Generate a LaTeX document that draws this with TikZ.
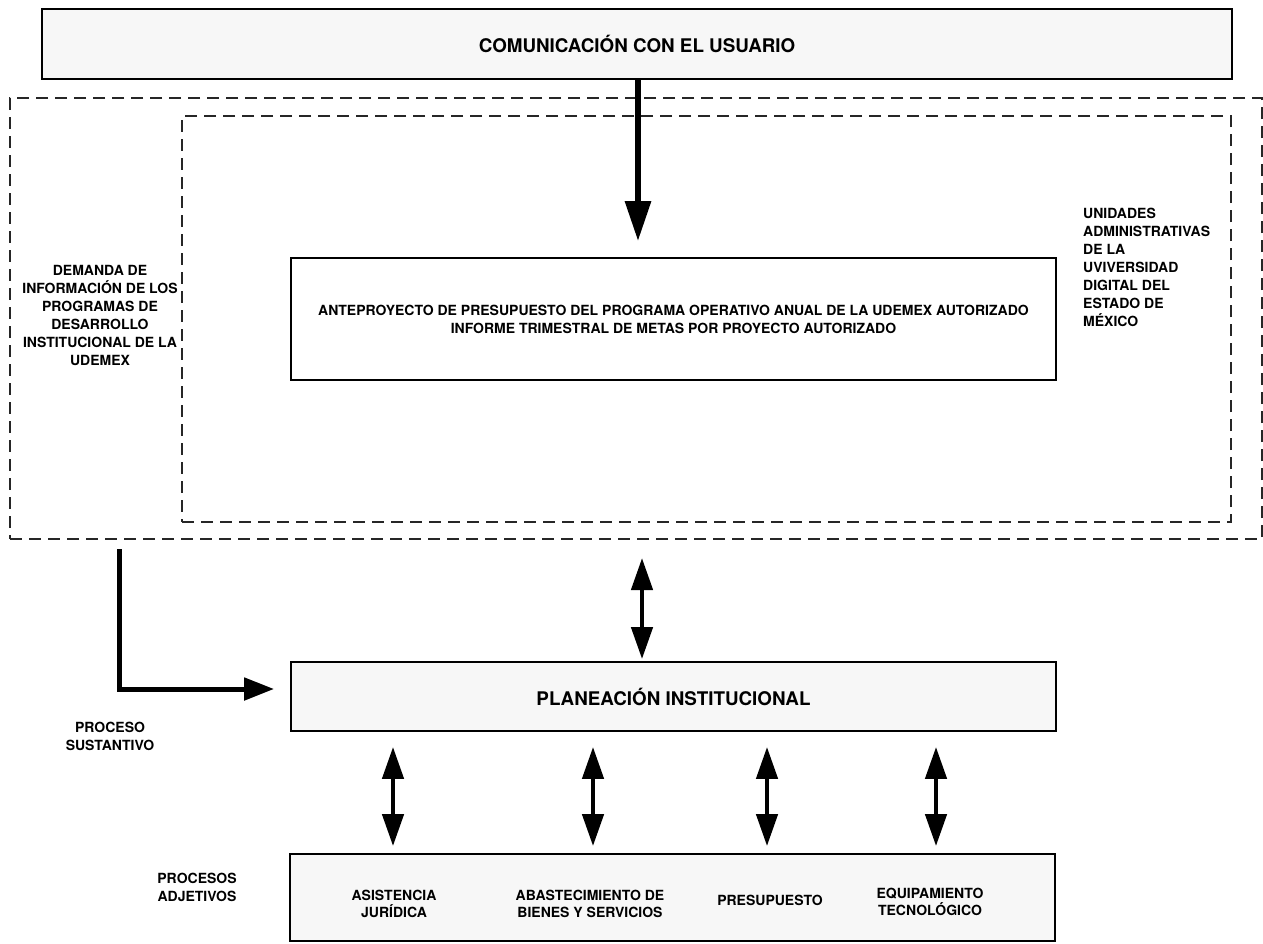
\documentclass[tikz,border=0pt]{standalone}
\usepackage{fontspec}
\setmainfont{TeX Gyre Heros}
\usetikzlibrary{arrows.meta}
\begin{document}
\begin{tikzpicture}[x=1pt,y=-1pt,
  solidbox/.style={draw=black,line width=1.8pt,fill=black!3,inner sep=0pt,anchor=center},
  dashbox/.style={draw=black!85,line width=1.8pt,dash pattern=on 12pt off 7pt,inner sep=0pt,anchor=center},
  bigtxt/.style={font=\fontsize{18.8}{22}\selectfont\bfseries},
  smalltxt/.style={font=\fontsize{14}{18}\selectfont\bfseries,inner sep=0pt,align=center},
  boxlabel/.style={smalltxt,font=\fontsize{14}{17}\selectfont\bfseries},
  bigarrow/.style={line width=6pt,-{Triangle[length=40pt,width=25pt]}},
  dblarrow/.style={line width=4.5pt,{Triangle[length=32pt,width=21pt]}-{Triangle[length=32pt,width=21pt]}},
  elbarrow/.style={line width=5pt,-{Triangle[length=30pt,width=22pt]}}
]
\fill[white] (0,0) rectangle (1263,943);
\useasboundingbox (0,0) rectangle (1263,943);

% dashed regions
\node[dashbox,minimum width=1252pt,minimum height=441pt] (outer) at (636,318.5) {};
\node[dashbox,minimum width=1049pt,minimum height=406pt] (inner) at (706.5,319) {};

% solid boxes
\node[solidbox,minimum width=1190pt,minimum height=70pt,bigtxt] (top) at (637,44) {COMUNICACIÓN CON EL USUARIO};
\node[solidbox,minimum width=765pt,minimum height=122pt,fill=white,smalltxt] (antep) at (673.5,319)
  {ANTEPROYECTO DE PRESUPUESTO DEL PROGRAMA OPERATIVO ANUAL DE LA UDEMEX AUTORIZADO\\
   INFORME TRIMESTRAL DE METAS POR PROYECTO AUTORIZADO};
\node[solidbox,minimum width=765pt,minimum height=69pt,bigtxt] (plan) at (673.5,696.5) {PLANEACIÓN INSTITUCIONAL};
\node[solidbox,minimum width=765pt,minimum height=87pt] (bottom) at (672.5,897.5) {};

% bottom labels
\node[boxlabel] (asis) at (394,904) {ASISTENCIA\\JURÍDICA};
\node[boxlabel] (abas) at (590,904) {ABASTECIMIENTO DE\\BIENES Y SERVICIOS};
\node[boxlabel] (pres) at (770,900) {PRESUPUESTO};
\node[boxlabel] (equi) at (930,902) {EQUIPAMIENTO\\TECNOLÓGICO};

% side labels
\node[smalltxt] (dem) at (100,315) {DEMANDA DE\\INFORMACIÓN DE LOS\\PROGRAMAS DE\\DESARROLLO\\INSTITUCIONAL DE LA\\UDEMEX};
\node[smalltxt,align=left,anchor=west] (uni) at (1083,267) {UNIDADES\\ADMINISTRATIVAS\\DE LA\\UVIVERSIDAD\\DIGITAL DEL\\ESTADO DE\\MÉXICO};
\node[smalltxt] (sust) at (110,736) {PROCESO\\SUSTANTIVO};
\node[smalltxt] (adj) at (197,887) {PROCESOS\\ADJETIVOS};

% connectors
\coordinate (d1) at (638,0);
\draw[bigarrow,shorten >=16pt] (top.south -| d1) -- (antep.north -| d1);

\coordinate (m1) at (642,558);
\draw[dblarrow,shorten >=2pt] (m1) -- (plan.north -| m1);

\coordinate (e1) at (119,549);
\draw[elbarrow,shorten >=16pt] (e1) |- ([yshift=7.5pt]plan.west);

\foreach \x/\n in {393/a,593/b,767/c,936/d}{
  \coordinate (s\n) at (\x,0);
  \draw[dblarrow,shorten <=15pt,shorten >=7pt] (plan.south -| s\n) -- (bottom.north -| s\n);
}
\end{tikzpicture}
\end{document}
